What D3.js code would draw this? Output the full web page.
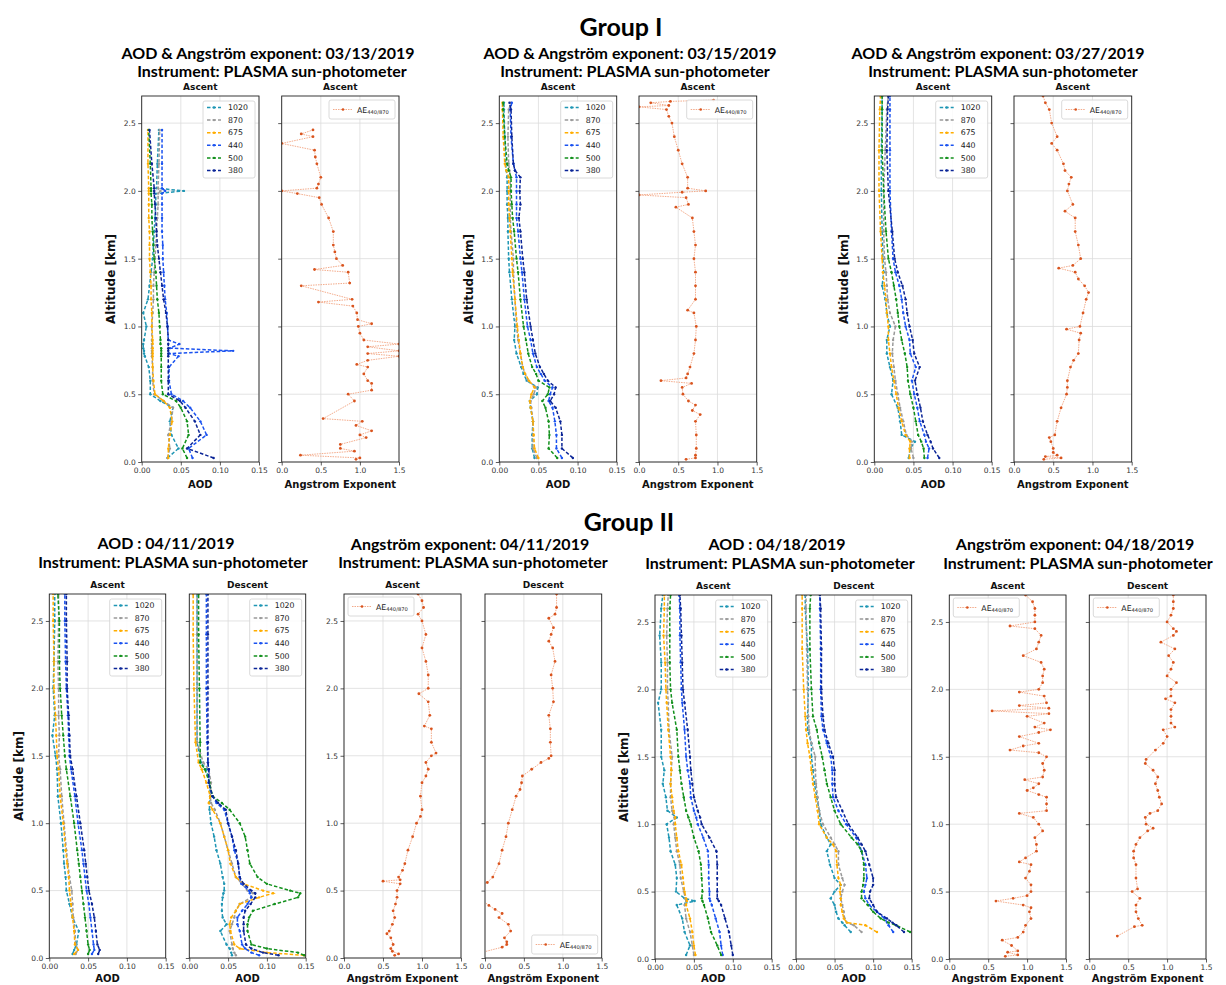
<!DOCTYPE html>
<meta charset="utf-8">
<style>
body { margin: 0; background: #fff; }
.head { font-family: Lato, "Open Sans", sans-serif; font-weight: bold; fill: #000; }
.ptitle { font-family: "DejaVu Sans"; font-weight: bold; font-size: 9px; fill: #111; }
.alab { font-family: "DejaVu Sans"; font-weight: bold; font-size: 10px; fill: #111; }
.leg { font-family: "DejaVu Sans"; font-size: 7.8px; fill: #222; }
</style>
<body>
<script src="https://d3js.org/d3.v7.min.js"></script>
<script>

// wavelengths (legend order) and tick values
var wavelengths = ["1020", "870", "675", "440", "500", "380"];
var aodTicks = [0, 0.05, 0.10, 0.15];
var aeTicks = [0, 0.5, 1.0, 1.5];
var altTicks = [0, 0.5, 1.0, 1.5, 2.0, 2.5];

// ---- Group I, 03/13/2019 ascent ----
var alt0313 = [0.03,0.1,0.2,0.3,0.4,0.45,0.5,0.6,0.7,0.78,0.8,0.82,0.84,0.87,0.9,1.0,1.1,1.2,1.3,1.4,1.5,1.6,1.7,1.8,1.9,1.98,2.0,2.02,2.2,2.45];
var aod0313 = [
  [0.033,0.047,0.038,0.036,0.040,0.024,0.011,0.011,0.009,0.004,0.003,0.003,0.002,0.002,0.003,0.006,0.002,0.008,0.010,0.012,0.014,0.015,0.016,0.017,0.018,0.018,0.054,0.019,0.020,0.022],
  [0.033,0.036,0.034,0.038,0.040,0.028,0.016,0.014,0.014,0.013,0.013,0.013,0.013,0.013,0.013,0.013,0.014,0.015,0.015,0.016,0.017,0.018,0.019,0.020,0.021,0.021,0.024,0.021,0.022,0.023],
  [0.034,0.034,0.036,0.039,0.036,0.028,0.017,0.015,0.014,0.014,0.014,0.014,0.014,0.014,0.014,0.013,0.013,0.012,0.012,0.011,0.010,0.010,0.010,0.009,0.009,0.009,0.009,0.009,0.008,0.008],
  [0.065,0.060,0.083,0.075,0.062,0.053,0.038,0.035,0.035,0.047,0.035,0.117,0.036,0.048,0.034,0.033,0.032,0.030,0.029,0.028,0.027,0.027,0.026,0.026,0.026,0.026,0.030,0.026,0.026,0.026],
  [0.058,0.052,0.060,0.058,0.050,0.044,0.027,0.025,0.025,0.025,0.025,0.025,0.025,0.024,0.024,0.023,0.022,0.020,0.019,0.018,0.016,0.015,0.014,0.013,0.013,0.012,0.012,0.012,0.011,0.009],
  [0.092,0.058,0.075,0.068,0.056,0.049,0.034,0.034,0.034,0.034,0.034,0.034,0.034,0.034,0.034,0.033,0.031,0.028,0.026,0.024,0.022,0.020,0.019,0.018,0.017,0.016,0.016,0.016,0.013,0.010]
];
var aeAlt0313 = [0.02,0.03,0.05,0.08,0.1,0.13,0.18,0.2,0.23,0.27,0.3,0.32,0.45,0.5,0.53,0.58,0.6,0.65,0.7,0.72,0.75,0.78,0.8,0.82,0.85,0.87,0.9,0.95,1.0,1.02,1.05,1.1,1.15,1.18,1.2,1.3,1.32,1.4,1.42,1.45,1.5,1.55,1.6,1.7,1.8,1.9,1.95,1.98,2.0,2.02,2.05,2.1,2.2,2.25,2.3,2.35,2.4,2.42,2.45];
var ae0313 = [0.95,1.0,0.24,0.93,0.75,0.75,1.08,1.0,1.15,0.95,1.03,0.53,0.93,0.85,1.15,1.15,1.1,1.05,1.1,0.96,1.1,1.5,1.1,1.5,1.1,1.5,1.05,1.0,0.98,1.15,0.97,0.96,0.91,0.47,0.9,0.25,0.87,0.85,0.42,0.78,0.7,0.68,0.66,0.66,0.6,0.51,0.48,0.2,0.0,0.45,0.47,0.5,0.45,0.43,0.42,0.0,0.4,0.25,0.4];

// ---- Group I, 03/15/2019 ascent ----
var alt0315 = [0.03,0.1,0.2,0.3,0.4,0.45,0.5,0.55,0.6,0.65,0.7,0.8,0.9,1.0,1.2,1.4,1.5,1.7,1.8,1.9,2.0,2.1,2.15,2.2,2.4,2.6,2.65];
var aod0315 = [
  [0.045,0.042,0.042,0.043,0.040,0.039,0.048,0.049,0.035,0.031,0.028,0.022,0.019,0.020,0.016,0.013,0.012,0.011,0.011,0.010,0.010,0.010,0.009,0.008,0.007,0.006,0.006],
  [0.048,0.043,0.043,0.043,0.041,0.040,0.044,0.047,0.037,0.033,0.030,0.027,0.024,0.022,0.020,0.018,0.018,0.015,0.014,0.014,0.014,0.014,0.013,0.012,0.011,0.012,0.015],
  [0.050,0.045,0.044,0.043,0.040,0.039,0.041,0.045,0.038,0.033,0.030,0.027,0.025,0.023,0.020,0.017,0.016,0.014,0.013,0.012,0.012,0.012,0.009,0.007,0.005,0.004,0.004],
  [0.080,0.073,0.073,0.071,0.068,0.063,0.065,0.068,0.058,0.053,0.048,0.043,0.040,0.036,0.032,0.029,0.027,0.024,0.022,0.022,0.022,0.022,0.020,0.018,0.015,0.014,0.016],
  [0.074,0.063,0.064,0.063,0.059,0.055,0.062,0.064,0.050,0.047,0.042,0.037,0.034,0.031,0.027,0.024,0.022,0.019,0.017,0.016,0.015,0.015,0.012,0.010,0.007,0.005,0.005],
  [0.094,0.080,0.080,0.078,0.072,0.065,0.070,0.072,0.062,0.057,0.052,0.046,0.043,0.040,0.035,0.032,0.030,0.027,0.025,0.027,0.026,0.027,0.020,0.018,0.016,0.015,0.013]
];
var aeAlt0315 = [0.02,0.03,0.05,0.1,0.2,0.3,0.35,0.38,0.42,0.45,0.5,0.55,0.58,0.6,0.62,0.65,0.7,0.8,0.9,1.0,1.1,1.12,1.2,1.3,1.4,1.5,1.6,1.7,1.8,1.88,1.9,1.95,1.97,1.99,2.0,2.02,2.1,2.2,2.3,2.4,2.5,2.55,2.6,2.62,2.63,2.65,2.66,2.67];
var ae0315 = [0.6,0.72,0.72,0.73,0.73,0.72,0.78,0.68,0.72,0.63,0.56,0.55,0.67,0.28,0.6,0.62,0.65,0.7,0.72,0.73,0.7,0.62,0.72,0.72,0.72,0.7,0.72,0.7,0.68,0.47,0.63,0.6,0.0,0.55,0.85,0.62,0.62,0.55,0.5,0.45,0.42,0.38,0.35,0.0,0.38,0.15,0.4,0.95];

// ---- Group I, 03/27/2019 ascent ----
var alt0327 = [0.03,0.1,0.15,0.2,0.3,0.4,0.5,0.6,0.7,0.8,0.9,1.0,1.1,1.2,1.3,1.4,1.5,1.7,2.0,2.3,2.6,2.7];
var aod0327 = [
  [0.044,0.046,0.052,0.035,0.033,0.030,0.022,0.024,0.020,0.016,0.016,0.020,0.016,0.014,0.010,0.012,0.011,0.010,0.009,0.009,0.010,0.010],
  [0.050,0.047,0.048,0.041,0.037,0.033,0.030,0.027,0.025,0.023,0.024,0.027,0.020,0.017,0.016,0.015,0.013,0.012,0.012,0.014,0.016,0.018],
  [0.045,0.045,0.046,0.040,0.035,0.031,0.028,0.025,0.022,0.020,0.018,0.018,0.016,0.015,0.013,0.011,0.010,0.008,0.006,0.006,0.007,0.008],
  [0.068,0.070,0.066,0.064,0.058,0.055,0.051,0.048,0.053,0.046,0.045,0.040,0.037,0.035,0.032,0.027,0.024,0.022,0.020,0.020,0.020,0.020],
  [0.064,0.063,0.060,0.056,0.053,0.050,0.046,0.043,0.042,0.039,0.035,0.032,0.030,0.028,0.025,0.022,0.018,0.015,0.012,0.010,0.010,0.010],
  [0.083,0.075,0.072,0.068,0.062,0.059,0.055,0.052,0.058,0.051,0.049,0.045,0.042,0.040,0.036,0.030,0.026,0.023,0.018,0.016,0.017,0.018]
];
var aeAlt0327 = [0.02,0.03,0.04,0.05,0.07,0.1,0.15,0.18,0.2,0.3,0.4,0.5,0.55,0.6,0.7,0.75,0.8,0.9,0.95,0.98,1.0,1.1,1.2,1.25,1.3,1.35,1.4,1.43,1.45,1.5,1.6,1.7,1.8,1.85,1.9,2.0,2.05,2.1,2.15,2.2,2.3,2.35,2.4,2.5,2.6,2.65,2.7];
var ae0327 = [0.38,0.6,0.4,0.55,0.5,0.5,0.47,0.45,0.52,0.55,0.6,0.67,0.68,0.68,0.72,0.76,0.82,0.83,0.85,0.67,0.84,0.88,0.92,0.95,0.9,0.82,0.78,0.57,0.75,0.85,0.82,0.78,0.78,0.65,0.75,0.68,0.7,0.73,0.65,0.63,0.55,0.48,0.55,0.48,0.45,0.4,0.37];

// ---- Group II, 04/11/2019 ascent / descent ----
var altA0411 = [0.03,0.06,0.1,0.2,0.3,0.4,0.5,0.6,0.7,0.8,1.0,1.2,1.4,1.5,1.65,1.8,2.0,2.2,2.5,2.7];
var aodA0411 = [
  [0.030,0.032,0.035,0.038,0.030,0.026,0.022,0.021,0.019,0.018,0.015,0.011,0.010,0.008,0.004,0.007,0.005,0.006,0.007,0.007],
  [0.034,0.037,0.034,0.033,0.031,0.030,0.029,0.026,0.024,0.022,0.019,0.016,0.014,0.012,0.013,0.012,0.012,0.011,0.012,0.012],
  [0.032,0.037,0.033,0.032,0.030,0.028,0.026,0.025,0.023,0.021,0.018,0.014,0.012,0.010,0.009,0.008,0.006,0.006,0.005,0.005],
  [0.055,0.058,0.057,0.055,0.053,0.051,0.048,0.046,0.044,0.042,0.037,0.033,0.028,0.026,0.025,0.024,0.022,0.021,0.020,0.020],
  [0.050,0.052,0.050,0.048,0.046,0.044,0.042,0.040,0.038,0.036,0.032,0.027,0.022,0.020,0.018,0.016,0.014,0.013,0.013,0.011],
  [0.063,0.065,0.062,0.060,0.058,0.055,0.051,0.049,0.047,0.045,0.040,0.035,0.030,0.027,0.026,0.025,0.023,0.023,0.022,0.022]
];
var altD0411 = [0.02,0.04,0.07,0.1,0.2,0.25,0.3,0.35,0.4,0.45,0.48,0.5,0.55,0.6,0.7,0.8,0.9,1.0,1.1,1.15,1.2,1.3,1.4,1.45,1.6,2.0,2.4,2.7];
var aodD0411 = [
  [0.055,0.054,0.052,0.048,0.040,0.048,0.043,0.042,0.042,0.043,0.044,0.045,0.045,0.043,0.040,0.035,0.032,0.028,0.026,0.026,0.027,0.026,0.022,0.015,0.010,0.010,0.010,0.010],
  [0.060,0.058,0.056,0.055,0.052,0.055,0.058,0.060,0.065,0.080,0.082,0.075,0.068,0.060,0.055,0.050,0.045,0.040,0.033,0.028,0.027,0.028,0.025,0.018,0.010,0.010,0.010,0.010],
  [0.148,0.100,0.065,0.058,0.053,0.052,0.054,0.060,0.065,0.090,0.108,0.095,0.070,0.060,0.053,0.050,0.045,0.040,0.030,0.025,0.027,0.022,0.016,0.012,0.008,0.006,0.005,0.005],
  [0.090,0.080,0.072,0.068,0.065,0.062,0.062,0.068,0.075,0.080,0.078,0.077,0.067,0.065,0.063,0.058,0.055,0.050,0.045,0.035,0.030,0.025,0.025,0.024,0.023,0.022,0.022,0.022],
  [0.148,0.140,0.100,0.080,0.075,0.075,0.077,0.082,0.110,0.140,0.143,0.130,0.100,0.088,0.078,0.075,0.072,0.065,0.052,0.042,0.030,0.026,0.020,0.014,0.014,0.013,0.012,0.012],
  [0.115,0.095,0.080,0.073,0.070,0.070,0.070,0.072,0.079,0.085,0.085,0.080,0.070,0.065,0.063,0.060,0.055,0.050,0.047,0.037,0.030,0.025,0.025,0.024,0.024,0.024,0.024,0.024]
];
var aeAltA0411 = [0.02,0.03,0.05,0.07,0.1,0.15,0.18,0.2,0.25,0.3,0.35,0.4,0.45,0.5,0.55,0.57,0.58,0.6,0.65,0.7,0.8,0.9,1.0,1.05,1.1,1.2,1.3,1.35,1.4,1.45,1.5,1.52,1.6,1.7,1.72,1.8,1.9,1.96,2.0,2.1,2.2,2.3,2.4,2.5,2.55,2.6,2.65,2.7];
var aeA0411 = [0.65,0.7,0.62,0.6,0.63,0.6,0.55,0.58,0.62,0.65,0.63,0.66,0.68,0.68,0.72,0.5,0.72,0.7,0.75,0.78,0.82,0.88,0.93,0.98,1.0,0.98,1.0,1.05,1.08,1.05,1.12,1.18,1.12,1.12,1.03,1.1,1.08,0.96,1.08,1.08,1.05,1.0,1.05,1.0,0.95,1.02,1.0,0.95];
var aeAltD0411 = [0.04,0.08,0.1,0.12,0.15,0.2,0.25,0.3,0.33,0.36,0.39,0.42,0.49,0.56,0.6,0.7,0.8,0.9,1.0,1.1,1.2,1.25,1.3,1.35,1.4,1.45,1.48,1.5,1.6,1.7,1.8,1.9,2.0,2.1,2.2,2.3,2.35,2.4,2.45,2.52,2.55,2.6,2.7];
var aeD0411 = [-0.05,0.22,0.28,0.28,0.25,0.33,0.3,0.18,0.22,0.13,0.05,-0.02,-0.3,0.03,0.1,0.18,0.22,0.27,0.3,0.35,0.4,0.45,0.47,0.48,0.6,0.72,0.82,0.85,0.84,0.84,0.82,0.88,0.87,0.85,0.9,0.87,0.82,0.85,0.88,0.82,0.9,0.92,0.92];

// ---- Group II, 04/18/2019 ascent / descent ----
var altA0418 = [0.03,0.1,0.2,0.3,0.4,0.43,0.45,0.5,0.6,0.7,0.8,0.9,1.0,1.05,1.1,1.2,1.3,1.4,1.5,1.7,1.9,2.0,2.2,2.4,2.6,2.7];
var aodA0418 = [
  [0.040,0.045,0.038,0.035,0.028,0.051,0.038,0.027,0.028,0.026,0.020,0.018,0.015,0.028,0.016,0.014,0.010,0.012,0.008,0.008,0.004,0.008,0.008,0.006,0.008,0.010],
  [0.050,0.048,0.045,0.040,0.038,0.040,0.039,0.037,0.033,0.032,0.028,0.026,0.024,0.025,0.022,0.020,0.020,0.021,0.022,0.018,0.017,0.016,0.016,0.015,0.016,0.017],
  [0.052,0.050,0.048,0.045,0.040,0.041,0.040,0.038,0.036,0.034,0.030,0.028,0.026,0.026,0.024,0.022,0.020,0.021,0.020,0.017,0.015,0.014,0.013,0.011,0.012,0.012],
  [0.087,0.085,0.083,0.078,0.073,0.071,0.070,0.070,0.069,0.069,0.068,0.062,0.055,0.053,0.050,0.046,0.045,0.042,0.040,0.038,0.035,0.034,0.033,0.032,0.032,0.031],
  [0.085,0.080,0.072,0.068,0.063,0.061,0.060,0.061,0.060,0.059,0.056,0.050,0.046,0.043,0.040,0.037,0.034,0.032,0.030,0.028,0.022,0.020,0.019,0.019,0.019,0.020],
  [0.100,0.098,0.095,0.090,0.085,0.082,0.080,0.080,0.080,0.080,0.079,0.070,0.060,0.058,0.055,0.050,0.048,0.046,0.045,0.042,0.038,0.036,0.035,0.034,0.033,0.032]
];
var altD0418 = [0.2,0.25,0.27,0.3,0.35,0.4,0.45,0.5,0.55,0.6,0.7,0.8,0.85,0.9,1.0,1.1,1.2,1.3,1.4,1.5,1.6,1.7,1.8,2.0,2.3,2.6,2.7];
var aodD0418 = [
  [0.071,0.063,0.060,0.055,0.052,0.050,0.045,0.050,0.058,0.050,0.044,0.040,0.045,0.040,0.032,0.030,0.027,0.024,0.022,0.020,0.020,0.015,0.015,0.016,0.015,0.012,0.012],
  [0.085,0.075,0.066,0.063,0.062,0.060,0.058,0.060,0.063,0.060,0.055,0.055,0.050,0.045,0.035,0.030,0.028,0.026,0.025,0.025,0.020,0.017,0.016,0.015,0.014,0.013,0.013],
  [0.105,0.090,0.066,0.062,0.060,0.058,0.058,0.057,0.058,0.055,0.053,0.052,0.048,0.040,0.030,0.028,0.025,0.022,0.020,0.018,0.015,0.013,0.012,0.010,0.008,0.008,0.008],
  [0.126,0.120,0.118,0.115,0.105,0.095,0.090,0.088,0.090,0.092,0.090,0.085,0.082,0.078,0.065,0.055,0.048,0.047,0.047,0.045,0.040,0.035,0.033,0.032,0.032,0.031,0.031],
  [0.148,0.130,0.120,0.110,0.100,0.093,0.085,0.085,0.087,0.088,0.088,0.085,0.080,0.072,0.058,0.050,0.045,0.040,0.037,0.034,0.030,0.027,0.022,0.020,0.018,0.018,0.019],
  [0.140,0.130,0.125,0.118,0.105,0.100,0.095,0.096,0.100,0.100,0.095,0.090,0.085,0.080,0.068,0.060,0.052,0.050,0.050,0.048,0.042,0.037,0.035,0.033,0.033,0.032,0.031]
];
var aeAltA0418 = [0.02,0.03,0.05,0.06,0.1,0.14,0.16,0.2,0.25,0.3,0.35,0.38,0.4,0.43,0.45,0.47,0.5,0.55,0.6,0.65,0.7,0.72,0.75,0.8,0.85,0.9,0.95,1.0,1.05,1.08,1.1,1.15,1.2,1.22,1.25,1.27,1.3,1.33,1.35,1.4,1.45,1.5,1.53,1.55,1.58,1.6,1.65,1.68,1.7,1.72,1.75,1.8,1.82,1.84,1.86,1.88,1.9,1.95,1.98,2.0,2.05,2.1,2.15,2.2,2.25,2.3,2.35,2.4,2.45,2.47,2.5,2.55,2.6,2.65,2.7];
var aeA0418 = [0.72,0.88,0.75,0.88,0.8,0.68,0.88,0.95,0.98,1.05,1.03,1.05,0.95,0.6,0.82,1.0,1.05,1.05,0.98,1.03,1.05,0.9,0.98,1.12,1.12,1.1,1.2,1.15,1.08,0.9,1.25,1.25,1.25,1.15,1.0,1.08,1.15,0.97,1.2,1.22,1.2,1.25,1.15,0.78,0.95,1.15,0.9,1.15,1.3,1.1,1.22,1.0,1.28,0.55,1.28,0.9,1.25,1.22,0.9,1.15,1.2,1.2,1.22,1.18,0.95,1.12,1.15,1.18,1.1,0.78,1.1,1.1,1.1,1.07,0.98];
var aeAltD0418 = [0.17,0.24,0.25,0.3,0.35,0.4,0.45,0.5,0.52,0.6,0.7,0.75,0.8,0.85,0.9,0.95,0.97,1.0,1.05,1.08,1.1,1.15,1.2,1.25,1.3,1.35,1.4,1.45,1.48,1.55,1.6,1.65,1.7,1.72,1.75,1.8,1.85,1.9,1.93,1.95,2.0,2.05,2.1,2.15,2.2,2.25,2.3,2.35,2.4,2.43,2.45,2.5,2.55,2.6,2.65,2.7];
var aeD0418 = [0.36,0.58,0.68,0.63,0.6,0.6,0.65,0.55,0.62,0.6,0.6,0.57,0.57,0.6,0.65,0.75,0.82,0.73,0.72,0.78,0.88,0.93,0.9,0.88,0.85,0.88,0.82,0.72,0.73,0.85,0.95,1.0,0.95,1.1,1.05,1.05,1.05,1.1,0.98,1.05,1.05,1.12,1.0,1.05,1.08,1.02,1.1,0.92,1.08,1.12,1.08,1.0,1.05,1.08,1.08,1.08];

// colours per wavelength
var colors = ["#1f96b4", "#9a9a9a", "#ffad00", "#1a52f0", "#12901c", "#0b2597"];
var aeDot = "#d9541e", aeLine = "#f2a27e";

// panel layout (pixel boxes)
var panels = [
  {kind: "aod", alt: alt0313, vals: aod0313, x: [141.7, 259], y: [462, 96], title: "Ascent", xlab: "AOD", yTicks: true, yLabel: true},
  {kind: "ae", alt: aeAlt0313, vals: ae0313, x: [281.7, 399], y: [462, 96], title: "Ascent", xlab: "Angstrom Exponent", legend: "tr"},
  {kind: "aod", alt: alt0315, vals: aod0315, x: [499.3, 616.7], y: [462, 96], title: "Ascent", xlab: "AOD", yTicks: true, yLabel: true},
  {kind: "ae", alt: aeAlt0315, vals: ae0315, x: [639, 756.7], y: [462, 96], title: "Ascent", xlab: "Angstrom Exponent", legend: "tr"},
  {kind: "aod", alt: alt0327, vals: aod0327, x: [874.3, 991.7], y: [462, 96], title: "Ascent", xlab: "AOD", yTicks: true, yLabel: true},
  {kind: "ae", alt: aeAlt0327, vals: ae0327, x: [1014, 1131.7], y: [462, 96], title: "Ascent", xlab: "Angstrom Exponent", legend: "tr"},
  {kind: "aod", alt: altA0411, vals: aodA0411, x: [49.3, 165.7], y: [958, 594], title: "Ascent", xlab: "AOD", yTicks: true, yLabel: true},
  {kind: "aod", alt: altD0411, vals: aodD0411, x: [189.3, 305.7], y: [958, 594], title: "Descent", xlab: "AOD"},
  {kind: "ae", alt: aeAltA0411, vals: aeA0411, x: [344, 461], y: [958, 594], title: "Ascent", xlab: "Angström Exponent", yTicks: true, legend: "tl"},
  {kind: "ae", alt: aeAltD0411, vals: aeD0411, x: [485, 601.7], y: [958, 594], title: "Descent", xlab: "Angström Exponent", legend: "br"},
  {kind: "aod", alt: altA0418, vals: aodA0418, x: [655, 771.7], y: [959, 595], title: "Ascent", xlab: "AOD", yTicks: true, yLabel: true},
  {kind: "aod", alt: altD0418, vals: aodD0418, x: [796, 911.7], y: [959, 595], title: "Descent", xlab: "AOD"},
  {kind: "ae", alt: aeAltA0418, vals: aeA0418, x: [949.3, 1066], y: [959, 595], title: "Ascent", xlab: "Angström Exponent", yTicks: true, legend: "tl"},
  {kind: "ae", alt: aeAltD0418, vals: aeD0418, x: [1089.3, 1206], y: [959, 595], title: "Descent", xlab: "Angström Exponent", legend: "tl"}
];

var svg = d3.select("body").append("svg")
    .attr("width", 1226)
    .attr("height", 985);

// headings
var heads = [
  {t: "Group I", x: 621, y: 36, s: 25},
  {t: "AOD & Angström exponent: 03/13/2019", x: 268, y: 58.5, s: 16},
  {t: "Instrument: PLASMA sun-photometer", x: 272, y: 77, s: 16},
  {t: "AOD & Angström exponent: 03/15/2019", x: 630, y: 58.5, s: 16},
  {t: "Instrument: PLASMA sun-photometer", x: 635, y: 77, s: 16},
  {t: "AOD & Angström exponent: 03/27/2019", x: 998, y: 58.5, s: 16},
  {t: "Instrument: PLASMA sun-photometer", x: 1003, y: 77, s: 16},
  {t: "Group II", x: 629, y: 531, s: 25},
  {t: "AOD : 04/11/2019", x: 166, y: 549, s: 16},
  {t: "Instrument: PLASMA sun-photometer", x: 173, y: 568, s: 16},
  {t: "Angström exponent: 04/11/2019", x: 470, y: 549.5, s: 16},
  {t: "Instrument: PLASMA sun-photometer", x: 473, y: 568, s: 16},
  {t: "AOD : 04/18/2019", x: 777, y: 550, s: 16},
  {t: "Instrument: PLASMA sun-photometer", x: 780, y: 569, s: 16},
  {t: "Angström exponent: 04/18/2019", x: 1075, y: 550, s: 16},
  {t: "Instrument: PLASMA sun-photometer", x: 1078, y: 569, s: 16}
];
svg.selectAll("text.head").data(heads).join("text")
    .attr("class", "head")
    .attr("x", function(d) { return d.x; })
    .attr("y", function(d) { return d.y; })
    .attr("text-anchor", "middle")
    .style("font-size", function(d) { return d.s + "px"; })
    .text(function(d) { return d.t; });

var fmt2 = d3.format(".2f"), fmt1 = d3.format(".1f");

function aodLegend(g, bx, by) {
  g.append("rect").attr("x", bx).attr("y", by).attr("width", 52).attr("height", 77)
      .attr("rx", 2).attr("fill", "#fff").attr("fill-opacity", 0.85)
      .attr("stroke", "#d0d0d0").attr("stroke-width", 0.8);
  wavelengths.forEach(function(w, k) {
    var yy = by + 6.5 + k * 12.6;
    g.append("line").attr("x1", bx + 4).attr("x2", bx + 18).attr("y1", yy).attr("y2", yy)
        .attr("stroke", colors[k]).attr("stroke-width", 1.5).attr("stroke-dasharray", "3.5,2");
    g.append("circle").attr("cx", bx + 11).attr("cy", yy).attr("r", 1.2).attr("fill", colors[k]);
    g.append("text").attr("class", "leg").attr("x", bx + 25).attr("y", yy).attr("dy", "0.35em").text(w);
  });
}

function aeLegend(g, bx, by) {
  g.append("rect").attr("x", bx).attr("y", by).attr("width", 66).attr("height", 19)
      .attr("rx", 2).attr("fill", "#fff").attr("fill-opacity", 0.85)
      .attr("stroke", "#d0d0d0").attr("stroke-width", 0.8);
  g.append("line").attr("x1", bx + 4).attr("x2", bx + 24).attr("y1", by + 9.5).attr("y2", by + 9.5)
      .attr("stroke", aeLine).attr("stroke-width", 0.9).attr("stroke-dasharray", "1.5,1");
  g.append("circle").attr("cx", bx + 14).attr("cy", by + 9.5).attr("r", 1.3).attr("fill", aeDot);
  var t = g.append("text").attr("class", "leg").attr("x", bx + 28).attr("y", by + 12.5);
  t.append("tspan").text("AE");
  t.append("tspan").attr("dy", 1.5).style("font-size", "5.2px").text("440/870");
}

panels.forEach(function(p, i) {
  var isAod = p.kind === "aod";
  var left = p.x[0], right = p.x[1], bottom = p.y[0], top = p.y[1];
  var x = d3.scaleLinear().domain([0, isAod ? 0.15 : 1.5]).range(p.x);
  var y = d3.scaleLinear().domain([0, 2.7]).range(p.y);
  var xt = isAod ? aodTicks : aeTicks;
  var g = svg.append("g");

  // grid
  g.append("g").selectAll("line").data(xt).join("line")
      .attr("x1", x).attr("x2", x).attr("y1", top).attr("y2", bottom)
      .attr("stroke", "#dcdcdc").attr("stroke-width", 0.8);
  g.append("g").selectAll("line").data(altTicks).join("line")
      .attr("x1", left).attr("x2", right).attr("y1", y).attr("y2", y)
      .attr("stroke", "#dcdcdc").attr("stroke-width", 0.8);

  svg.append("clipPath").attr("id", "clip" + i).append("rect")
      .attr("x", left).attr("y", top).attr("width", right - left).attr("height", bottom - top);
  var plot = g.append("g").attr("clip-path", "url(#clip" + i + ")");
  var line = d3.line().x(function(d) { return x(d[1]); }).y(function(d) { return y(d[0]); });

  if (isAod) {
    p.vals.forEach(function(vals, k) {
      var pts = p.alt.map(function(a, j) { return [a, vals[j]]; });
      plot.append("path").datum(pts).attr("d", line)
          .attr("fill", "none").attr("stroke", colors[k])
          .attr("stroke-width", 1.5).attr("stroke-dasharray", "3.5,2");
      plot.append("g").selectAll("circle").data(pts).join("circle")
          .attr("cx", function(d) { return x(d[1]); })
          .attr("cy", function(d) { return y(d[0]); })
          .attr("r", 1.2).attr("fill", colors[k]);
    });
  } else {
    var pts = p.alt.map(function(a, j) { return [a, p.vals[j]]; });
    plot.append("path").datum(pts).attr("d", line)
        .attr("fill", "none").attr("stroke", aeLine)
        .attr("stroke-width", 0.9).attr("stroke-dasharray", "1.5,1");
    plot.append("g").selectAll("circle").data(pts).join("circle")
        .attr("cx", function(d) { return x(d[1]); })
        .attr("cy", function(d) { return y(d[0]); })
        .attr("r", 1.4).attr("fill", aeDot);
  }

  // axes
  var ax = g.append("g").attr("transform", "translate(0," + bottom + ")")
      .call(d3.axisBottom(x).tickValues(xt).tickFormat(isAod ? fmt2 : fmt1).tickSize(3.5).tickPadding(2.5));
  var ay = g.append("g").attr("transform", "translate(" + left + ",0)")
      .call(d3.axisLeft(y).tickValues(altTicks).tickFormat(p.yTicks ? fmt1 : function() { return ""; }).tickSize(3.5).tickPadding(2.5));
  [ax, ay].forEach(function(a) {
    a.select(".domain").remove();
    a.attr("font-family", "DejaVu Sans").attr("font-size", 7.5);
    a.selectAll("text").attr("fill", "#333");
    a.selectAll("line").attr("stroke", "#333").attr("stroke-width", 0.8);
  });

  g.append("rect").attr("x", left).attr("y", top).attr("width", right - left).attr("height", bottom - top)
      .attr("fill", "none").attr("stroke", "#222").attr("stroke-width", 0.9);

  g.append("text").attr("class", "ptitle").attr("x", (left + right) / 2).attr("y", top - 6)
      .attr("text-anchor", "middle").text(p.title);
  // x-axis label; the lower row sits at the bottom edge of the page
  g.append("text").attr("class", "alab").attr("x", (left + right) / 2)
      .attr("y", bottom > 900 ? 981.5 : bottom + 26)
      .attr("text-anchor", "middle").text(p.xlab);
  if (p.yLabel) {
    g.append("text").attr("class", "alab")
        .attr("transform", "translate(" + (left - 31) + "," + ((top + bottom) / 2) + ") rotate(-90)")
        .attr("text-anchor", "middle").attr("dy", "0.35em")
        .style("font-size", "12px").text("Altitude [km]");
  }

  // legends
  if (isAod) aodLegend(g, right - 56, top + 5);
  else if (p.legend === "tr") aeLegend(g, right - 70, top + 4);
  else if (p.legend === "tl") aeLegend(g, left + 4, top + 3);
  else aeLegend(g, right - 70, bottom - 23);
});

</script>
</body>
